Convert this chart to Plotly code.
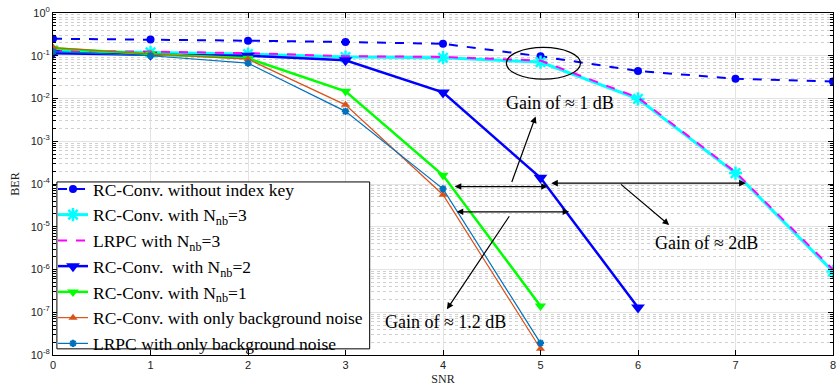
import plotly.graph_objects as go

snr = [0, 1, 2, 3, 4, 5, 6, 7, 8]
snr_short = [0, 1, 2, 3, 4, 5]
snr_nb2 = [0, 1, 2, 3, 4, 5, 6]

ber_no_key = [0.25, 0.24, 0.225, 0.21, 0.19, 0.097, 0.044, 0.029, 0.025]
ber_rc_nb3 = [0.13, 0.12, 0.11, 0.093, 0.09, 0.071, 0.0098, 1.8e-4, 9e-7]
ber_lrpc_nb3 = [0.13, 0.125, 0.115, 0.098, 0.094, 0.077, 0.0105, 1.9e-4, 1.0e-6]
ber_rc_nb2 = [0.115, 0.105, 0.1, 0.078, 0.0139, 1.4e-4, 1.3e-7]
ber_rc_nb1 = [0.15, 0.11, 0.087, 0.0147, 1.6e-4, 1.4e-7]
ber_rc_bg = [0.155, 0.11, 0.083, 0.0071, 5.6e-5, 1.4e-8]
ber_lrpc_bg = [0.125, 0.1, 0.067, 0.005, 7.7e-5, 1.9e-8]

names = [
    "RC-Conv. without index key",
    "RC-Conv. with N<sub>nb</sub>=3",
    "LRPC with N<sub>nb</sub>=3",
    "RC-Conv.  with N<sub>nb</sub>=2",
    "RC-Conv. with N<sub>nb</sub>=1",
    "RC-Conv. with only background noise",
    "LRPC with only background noise",
]

y_tickvals = [1e-8, 1e-7, 1e-6, 1e-5, 1e-4, 1e-3, 1e-2, 1e-1, 1]
y_ticktext = ["10<sup>-8</sup>", "10<sup>-7</sup>", "10<sup>-6</sup>", "10<sup>-5</sup>",
              "10<sup>-4</sup>", "10<sup>-3</sup>", "10<sup>-2</sup>", "10<sup>-1</sup>",
              "10<sup>0</sup>"]

SERIF = "Liberation Serif, Times New Roman, serif"
SANS = "Liberation Sans, Arial, sans-serif"

fig = go.Figure()
fig.add_trace(go.Scatter(x=snr, y=ber_no_key, name=names[0], mode="lines+markers",
                         line=dict(color="#0000FF", width=2, dash="dash"),
                         marker=dict(symbol="circle", size=8, color="#0000FF")))
fig.add_trace(go.Scatter(x=snr, y=ber_rc_nb3, name=names[1], mode="lines+markers",
                         line=dict(color="#00FFFF", width=3),
                         marker=dict(symbol="asterisk-open", size=11,
                                     line=dict(color="#00FFFF", width=2.5))))
fig.add_trace(go.Scatter(x=snr, y=ber_lrpc_nb3, name=names[2], mode="lines",
                         line=dict(color="#FF00FF", width=2, dash="dash")))
fig.add_trace(go.Scatter(x=snr_nb2, y=ber_rc_nb2, name=names[3], mode="lines+markers",
                         line=dict(color="#0000FF", width=2.5),
                         marker=dict(symbol="triangle-down", size=12, color="#0000FF")))
fig.add_trace(go.Scatter(x=snr_short, y=ber_rc_nb1, name=names[4], mode="lines+markers",
                         line=dict(color="#00FF00", width=2.5),
                         marker=dict(symbol="triangle-down", size=10, color="#00FF00")))
fig.add_trace(go.Scatter(x=snr_short, y=ber_rc_bg, name=names[5], mode="lines+markers",
                         line=dict(color="#D95319", width=1.2),
                         marker=dict(symbol="triangle-up", size=8, color="#D95319")))
fig.add_trace(go.Scatter(x=snr_short, y=ber_lrpc_bg, name=names[6], mode="lines+markers",
                         line=dict(color="#0072BD", width=1.2),
                         marker=dict(symbol="asterisk-open", size=6,
                                     line=dict(color="#0072BD", width=2))))

# annotations: (head_x, head_log_y, tail_x, tail_log_y, double)
arrows = [
    (4.12, -4.06, 5.09, -4.06, True),
    (4.14, -4.65, 5.31, -4.65, True),
    (5.11, -3.98, 7.12, -3.98, True),
    (6.32, -4.96, 5.81, -3.98, False),
    (4.95, -2.42, 4.70, -3.99, False),
    (4.04, -6.93, 4.69, -4.72, False),
]
for hx, hy, tx, ty, dbl in arrows:
    fig.add_annotation(x=hx, y=hy, ax=tx, ay=ty, xref="x", yref="y", axref="x", ayref="y",
                       text="", showarrow=True, arrowhead=2, arrowsize=1.1, arrowwidth=1.2,
                       arrowcolor="black", arrowside="end+start" if dbl else "end",
                       startarrowhead=2, startarrowsize=1.1)

labels = [
    (5.20, -2.11, "Gain of \u2248 1 dB"),
    (6.70, -5.39, "Gain of \u2248 2dB"),
    (4.03, -7.22, "Gain of \u2248 1.2 dB"),
]
for lx, ly, txt in labels:
    fig.add_annotation(x=lx, y=ly, xref="x", yref="y", text=txt, showarrow=False,
                       font=dict(family=SERIF, size=18, color="black"))

fig.add_shape(type="circle", xref="x", yref="y", x0=4.65, x1=5.41,
              y0=10 ** -1.546, y1=10 ** -0.806, line=dict(color="black", width=1.2))

# legend frame (drawn as a box so its padding matches the reference)
fig.add_shape(type="rect", xref="paper", yref="paper", x0=0.005, x1=0.406, y0=0.018, y1=0.506,
              fillcolor="white", line=dict(color="black", width=1), layer="above")

fig.update_xaxes(range=[0, 8], dtick=1, tick0=0, showgrid=True, gridcolor="#e3e3e3",
                 showline=True, linecolor="black", linewidth=1, mirror="allticks",
                 ticks="inside", ticklen=5, tickcolor="black", zeroline=False,
                 tickfont=dict(family=SANS, size=11, color="#222"),
                 title=dict(text="SNR", font=dict(family=SERIF, size=12, color="#222"), standoff=4))
fig.update_yaxes(type="log", range=[-8, 0], tickmode="array", tickvals=y_tickvals,
                 ticktext=y_ticktext, showgrid=True, gridcolor="#e3e3e3",
                 showline=True, linecolor="black", linewidth=1, mirror="allticks",
                 ticks="inside", ticklen=5, tickcolor="black", zeroline=False,
                 tickfont=dict(family=SANS, size=11, color="#222"),
                 minor=dict(dtick="D1", showgrid=True, gridcolor="#d0d0d0", griddash="dot",
                            ticks="inside", ticklen=3, tickcolor="black"),
                 title=dict(text="BER", font=dict(family=SERIF, size=12, color="#222"), standoff=8))

fig.update_layout(
    width=840, height=392,
    margin=dict(l=53, r=4, t=13, b=37),
    plot_bgcolor="white", paper_bgcolor="white",
    legend=dict(x=0.0, y=0.538, xanchor="left", yanchor="top",
                bgcolor="rgba(0,0,0,0)", borderwidth=0,
                font=dict(family=SERIF, size=17.5, color="black"),
                tracegroupgap=0, itemwidth=30),
    showlegend=True,
)

fig.write_html("out.html", config={"displayModeBar": False},
               post_script="document.body.style.margin='0';document.body.style.padding='0';")
